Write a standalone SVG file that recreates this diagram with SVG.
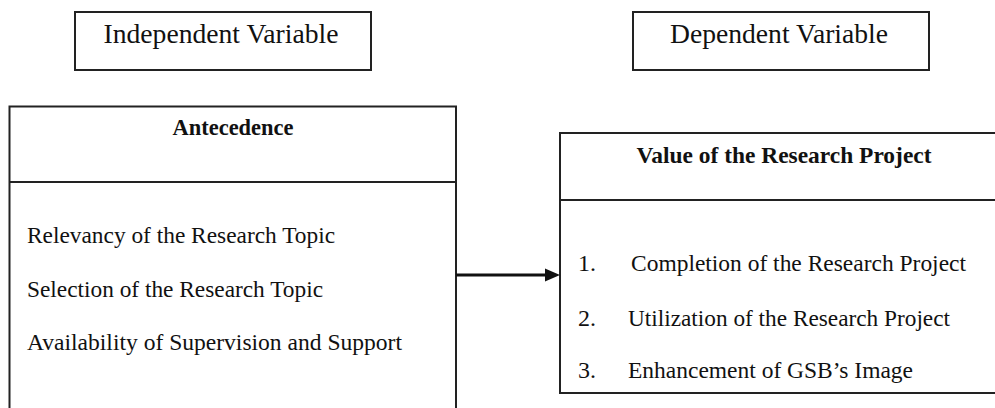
<svg xmlns="http://www.w3.org/2000/svg" width="995" height="408" viewBox="0 0 995 408">
<style>
.box{fill:#fff;stroke:#222;stroke-width:2}
.div{stroke:#222;stroke-width:2;fill:none}
.t{font-family:"Liberation Serif","Times New Roman",serif;fill:#111}
.lbl{font-size:27px}
.hd{font-size:23px;font-weight:bold}
.it{font-size:24px}
</style>
<rect width="995" height="408" fill="#fff"/>
<g id="independent-label">
<rect class="box" x="75" y="12" width="296" height="58"/>
<text class="t lbl" x="221" y="43" text-anchor="middle" textLength="235" lengthAdjust="spacingAndGlyphs">Independent Variable</text>
</g>
<g id="dependent-label">
<rect class="box" x="633" y="12" width="296" height="58"/>
<text class="t lbl" x="779" y="43" text-anchor="middle" textLength="218" lengthAdjust="spacingAndGlyphs">Dependent Variable</text>
</g>
<g id="antecedence">
<rect class="box" x="9.5" y="106.5" width="446.5" height="320"/>
<line class="div" x1="9.5" y1="182" x2="456" y2="182"/>
<text class="t hd" x="233" y="135" text-anchor="middle" textLength="121" lengthAdjust="spacingAndGlyphs">Antecedence</text>
<text class="t it" x="27" y="243" textLength="308" lengthAdjust="spacingAndGlyphs">Relevancy of the Research Topic</text>
<text class="t it" x="27" y="297" textLength="296" lengthAdjust="spacingAndGlyphs">Selection of the Research Topic</text>
<text class="t it" x="27" y="350" textLength="375" lengthAdjust="spacingAndGlyphs">Availability of Supervision and Support</text>
</g>
<g id="value">
<rect class="box" x="560" y="133" width="460" height="260"/>
<line class="div" x1="560" y1="200" x2="1020" y2="200"/>
<text class="t hd" x="784" y="163" text-anchor="middle" textLength="295" lengthAdjust="spacingAndGlyphs">Value of the Research Project</text>
<text class="t it" x="578" y="271">1.</text>
<text class="t it" x="631" y="271" textLength="335" lengthAdjust="spacingAndGlyphs">Completion of the Research Project</text>
<text class="t it" x="578" y="326">2.</text>
<text class="t it" x="628" y="326" textLength="322" lengthAdjust="spacingAndGlyphs">Utilization of the Research Project</text>
<text class="t it" x="578" y="378">3.</text>
<text class="t it" x="628" y="378" textLength="285" lengthAdjust="spacingAndGlyphs">Enhancement of GSB’s Image</text>
</g>
<g id="connectors">
<line x1="456" y1="275" x2="548" y2="275" stroke="#111" stroke-width="3"/>
<polygon points="545,268.5 560,275 545,281.5" fill="#111"/>
</g>
</svg>
